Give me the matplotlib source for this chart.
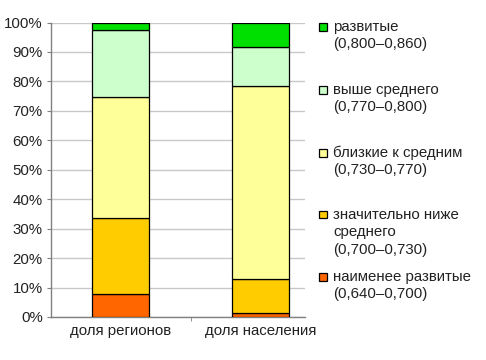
import matplotlib
matplotlib.use("Agg")
import matplotlib.pyplot as plt
from matplotlib.patches import Rectangle

categories = ["доля регионов", "доля населения"]
series_names = [
    "наименее развитые\n(0,640–0,700)",
    "значительно ниже\nсреднего\n(0,700–0,730)",
    "близкие к средним\n(0,730–0,770)",
    "выше среднего\n(0,770–0,800)",
    "развитые\n(0,800–0,860)",
]
least_developed = [7.7, 1.5]
much_below = [25.8, 11.5]
near_average = [41.2, 65.4]
above_average = [22.8, 13.3]
developed = [2.5, 8.3]
series_values = [least_developed, much_below, near_average, above_average, developed]
colors = ["#FF6600", "#FFCC00", "#FFFF99", "#CCFFCC", "#00E000"]
yticks = list(range(0, 101, 10))
ytick_labels = [f"{v}%" for v in yticks]

plt.rcParams['font.family'] = ['Liberation Sans', 'DejaVu Sans']
FS = 10.8
W, H = 486, 360
fig = plt.figure(figsize=(W / 100, H / 100), dpi=100)
left, right, top, bottom = 51, 305, 22.5, 317
ax = fig.add_axes([left / W, 1 - bottom / H, (right - left) / W, (bottom - top) / H])

x = list(range(len(categories)))
base = [0.0] * len(categories)
for vals, c in zip(series_values, colors):
    ax.bar(x, vals, bottom=base, width=0.41, color=c, edgecolor="black", linewidth=0.9, zorder=3)
    base = [b + v for b, v in zip(base, vals)]

ax.set_ylim(0, 100)
ax.set_xlim(-0.5, -0.5 + (right - left) * 2 / 279)
ax.set_yticks(yticks)
ax.set_yticklabels(ytick_labels, fontsize=FS, color="#222222")
ax.set_xticks(x)
ax.set_xticklabels(categories, fontsize=FS, color="#222222")
ax.tick_params(axis="x", length=0, pad=5)
ax.set_xticks([0.5], minor=True)
ax.tick_params(axis="x", which="minor", length=3, color="#808080")
ax.tick_params(axis="y", length=3, color="#808080", pad=3)
ax.grid(axis="y", color="#C8C8C8", linewidth=1.0, zorder=0)
for s in ["top", "right"]:
    ax.spines[s].set_visible(False)
for s in ["left", "bottom"]:
    ax.spines[s].set_color("#808080")
    ax.spines[s].set_linewidth(1.0)

# manual legend (top to bottom: reversed series order)
entry_y = [27, 90, 153, 215, 277]
line_h = 17.3
for name, c, y0 in zip(series_names[::-1], colors[::-1], entry_y):
    fig.patches.append(Rectangle((319 / W, 1 - (y0 + 3.5) / H), 7.5 / W, 7.5 / H,
                                 transform=fig.transFigure, facecolor=c,
                                 edgecolor="black", linewidth=0.9))
    for i, line in enumerate(name.split("\n")):
        fig.text(333 / W, 1 - (y0 + i * line_h) / H, line, fontsize=FS,
                 color="#222222", va="center", ha="left")

fig.savefig("out.png", dpi=100, facecolor="white")
